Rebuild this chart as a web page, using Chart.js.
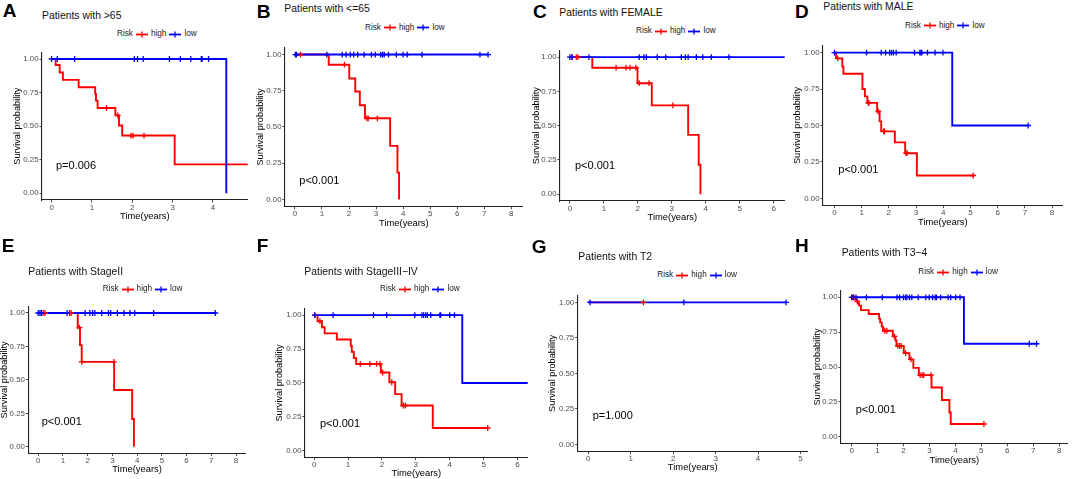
<!DOCTYPE html>
<html>
<head>
<meta charset="utf-8">
<script src="https://cdn.jsdelivr.net/npm/chart.js@4.4.0/dist/chart.umd.min.js"></script>
<style>
  body { margin: 0; background: #fff; width: 1072px; height: 479px; position: relative; overflow: hidden;
         font-family: "Liberation Sans", Arial, sans-serif; }
  canvas { position: absolute; }
  .t { position: absolute; white-space: nowrap; color: #000; }
  .lab { font-weight: bold; font-size: 19px; line-height: 19px; }
  .ttl { font-size: 10.4px; line-height: 10px; color: #111; }
  .pv { font-size: 11px; line-height: 11px; }
  .leg { position: absolute; display: flex; align-items: center; font-size: 8.2px; line-height: 8px;
         white-space: nowrap; color: #222; }
  .leg svg { display: block; }
</style>
</head>
<body>
<script>
// ---- data (time in years, survival probability) ----
var yTickVals = [0, 0.25, 0.5, 0.75, 1];
var yTickLabels = ['0.00', '0.25', '0.50', '0.75', '1.00'];

// A  Patients with >65
var aHighTime = [0, 0.10, 0.20, 0.28, 0.67, 1.08, 1.10, 1.14, 1.58, 1.67, 1.75, 3.05, 4.90];
var aHighSurv = [1, 0.955, 0.90, 0.845, 0.79, 0.74, 0.69, 0.635, 0.58, 0.505, 0.43, 0.215, 0.215];
var aHighCens = [1.36, 1.64, 1.97, 2.02, 2.29];
var aLowTime = [0, 4.33];
var aLowSurv = [1, 0];
var aLowCens = [0.0, 0.14, 0.57, 2.05, 2.13, 2.27, 2.92, 3.19, 3.45, 3.71, 3.73, 3.89];
var aTicks = [0, 1, 2, 3, 4];

// B  Patients with <=65
var bHighTime = [0, 1.25, 2.01, 2.23, 2.40, 2.59, 3.52, 3.79, 3.85];
var bHighSurv = [1, 0.93, 0.835, 0.745, 0.65, 0.56, 0.37, 0.185, 0];
var bHighCens = [0.21, 1.83, 2.66, 2.71, 3.05];
var bLowTime = [0, 7.14];
var bLowSurv = [1, 1];
var bLowCens = [0.02, 0.06, 1.18, 1.75, 1.89, 2.05, 2.17, 2.32, 2.56, 2.83, 2.97, 3.17, 3.24, 3.30, 3.46, 3.75, 4.00, 4.15, 4.70, 6.84, 7.14];
var bTicks = [0, 1, 2, 3, 4, 5, 6, 7, 8];

// C  Patients with FEMALE
var cHighTime = [0, 0.66, 1.99, 2.41, 3.48, 3.79, 3.84];
var cHighSurv = [1, 0.923, 0.81, 0.648, 0.433, 0.215, 0];
var cHighCens = [0.05, 0.19, 0.24, 1.36, 1.65, 1.77, 1.94, 2.04, 2.33, 3.03];
var cLowTime = [0, 6.40];
var cLowSurv = [1, 1];
var cLowCens = [0, 0.07, 0.56, 2.04, 2.18, 2.25, 2.57, 2.82, 3.28, 3.40, 3.48, 3.72, 3.91, 4.16, 4.68];
var cTicks = [0, 1, 2, 3, 4, 5, 6];

// D  Patients with MALE
var dHighTime = [0, 0.06, 0.29, 0.33, 1.03, 1.12, 1.21, 1.57, 1.66, 1.72, 2.22, 2.60, 3.03, 5.10];
var dHighSurv = [1, 0.96, 0.905, 0.855, 0.75, 0.70, 0.655, 0.596, 0.528, 0.46, 0.384, 0.31, 0.157, 0.157];
var dHighCens = [0.12, 1.24, 1.27, 1.61, 1.81, 1.84, 2.63, 2.67, 5.10];
var dLowTime = [0, 4.33, 7.12];
var dLowSurv = [1, 0.5, 0.5];
var dLowCens = [0, 1.18, 1.72, 1.88, 2.03, 2.10, 2.17, 2.27, 2.94, 3.14, 3.18, 3.21, 3.42, 3.70, 3.99, 7.12];
var dTicks = [0, 1, 2, 3, 4, 5, 6, 7, 8];

// E  Patients with StageII
var eHighTime = [0, 1.60, 1.69, 1.76, 3.07, 3.80, 3.87];
var eHighSurv = [1, 0.89, 0.76, 0.635, 0.424, 0.208, 0];
var eHighCens = [0.20, 0.27, 1.27, 1.33, 1.67, 1.76, 3.06];
var eLowTime = [0, 7.16];
var eLowSurv = [1, 1];
var eLowCens = [0, 0.07, 0.13, 1.17, 1.90, 2.09, 2.20, 2.29, 2.57, 2.84, 2.93, 3.20, 3.47, 3.71, 3.90, 4.67, 7.16];
var eTicks = [0, 1, 2, 3, 4, 5, 6, 7, 8];

// F  Patients with StageIII-IV
var fHighTime = [0, 0.10, 0.23, 0.31, 0.67, 1.08, 1.11, 1.17, 1.24, 1.97, 2.22, 2.39, 2.58, 3.50, 5.12];
var fHighSurv = [1, 0.955, 0.91, 0.865, 0.82, 0.774, 0.73, 0.683, 0.64, 0.577, 0.505, 0.418, 0.334, 0.168, 0.168];
var fHighCens = [0.02, 0.17, 1.36, 1.64, 1.84, 1.94, 2.02, 2.29, 2.63, 2.69, 5.12];
var fLowTime = [0, 4.37, 6.40];
var fLowSurv = [1, 0.5, 0.5];
var fLowCens = [0.02, 0.56, 1.75, 2.14, 2.97, 3.18, 3.23, 3.29, 3.34, 3.44, 3.71, 3.73, 4.00, 4.14];
var fTicks = [0, 1, 2, 3, 4, 5, 6];

// G  Patients with T2
var gHighTime = [0, 1.30];
var gHighSurv = [1, 1];
var gHighCens = [1.30];
var gLowTime = [0, 4.66];
var gLowSurv = [1, 1];
var gLowCens = [0.04, 2.25, 4.66];
var gTicks = [0, 1, 2, 3, 4, 5];

// H  Patients with T3-4
var hHighTime = [0, 0.13, 0.19, 0.25, 0.29, 0.36, 0.66, 1.06, 1.10, 1.16, 1.21, 1.59, 1.69, 1.73, 2.01, 2.23, 2.38, 2.59, 3.08, 3.48, 3.77, 3.82, 5.10];
var hHighSurv = [1, 0.985, 0.97, 0.955, 0.94, 0.908, 0.88, 0.847, 0.82, 0.79, 0.76, 0.72, 0.69, 0.652, 0.60, 0.555, 0.494, 0.442, 0.353, 0.264, 0.174, 0.092, 0.092];
var hHighCens = [0.04, 0.09, 0.22, 1.28, 1.36, 1.65, 1.78, 1.85, 1.91, 2.08, 2.29, 2.64, 2.72, 2.78, 3.06, 5.10];
var hLowTime = [0, 4.33, 7.13];
var hLowSurv = [1, 0.667, 0.667];
var hLowCens = [0, 0.06, 0.17, 0.57, 1.18, 1.75, 1.85, 2.00, 2.08, 2.13, 2.23, 2.32, 2.57, 2.86, 2.99, 3.12, 3.22, 3.27, 3.43, 3.72, 3.82, 4.01, 4.18, 6.85, 7.13];
var hTicks = [0, 1, 2, 3, 4, 5, 6, 7, 8];

var pValues = ['p=0.006', 'p<0.001', 'p<0.001', 'p<0.001', 'p<0.001', 'p<0.001', 'p=1.000', 'p<0.001'];
var panelTitles = ['Patients with >65', 'Patients with <=65', 'Patients with FEMALE', 'Patients with MALE',
                   'Patients with StageII', 'Patients with StageIII\u2212IV', 'Patients with T2', 'Patients with T3\u22124'];
var panelLetters = ['A', 'B', 'C', 'D', 'E', 'F', 'G', 'H'];

// ---- layout of each panel on the page ----
// plot box (cl,cr,ct,cb), x range, y-title distance, and text anchors
var panels = [
  {hT: aHighTime, hS: aHighSurv, hC: aHighCens, lT: aLowTime, lS: aLowSurv, lC: aLowCens, xt: aTicks,
   cl: 42, cr: 250, ct: 49.9, cb: 200, xmin: -0.238, xmax: 4.86, yOff: 24,
   letter: [2.7, 17], title: [42, 16], leg: [117, 34], pv: [56, 165.7]},
  {hT: bHighTime, hS: bHighSurv, hC: bHighCens, lT: bLowTime, lS: bLowSurv, lC: bLowCens, xt: bTicks,
   cl: 285, cr: 525, ct: 44.3, cb: 206.7, xmin: -0.366, xmax: 8.42, yOff: 24.3,
   letter: [256.7, 18.3], title: [284.3, 9], leg: [365, 27.7], pv: [299.3, 180.7]},
  {hT: cHighTime, hS: cHighSurv, hC: cHighCens, lT: cLowTime, lS: cLowSurv, lC: cLowCens, xt: cTicks,
   cl: 560, cr: 787, ct: 47, cb: 201, xmin: -0.29, xmax: 6.32, yOff: 23,
   letter: [533, 18.3], title: [559.3, 13.3], leg: [636, 31], pv: [575, 165.7]},
  {hT: dHighTime, hS: dHighSurv, hC: dHighCens, lT: dLowTime, lS: dLowSurv, lC: dLowCens, xt: dTicks,
   cl: 823, cr: 1065, ct: 42.6, cb: 205.7, xmin: -0.42, xmax: 8.39, yOff: 25,
   letter: [795, 18.3], title: [823.3, 7.3], leg: [905, 25.7], pv: [838.3, 169.3]},
  {hT: eHighTime, hS: eHighSurv, hC: eHighCens, lT: eLowTime, lS: eLowSurv, lC: eLowCens, xt: eTicks,
   cl: 28.3, cr: 248, ct: 303.9, cb: 453.5, xmin: -0.4, xmax: 8.39, yOff: 23,
   letter: [1.7, 252], title: [28.3, 271.7], leg: [102.7, 289], pv: [41.7, 421]},
  {hT: fHighTime, hS: fHighSurv, hC: fHighCens, lT: fLowTime, lS: fLowSurv, lC: fLowCens, xt: fTicks,
   cl: 305, cr: 529.3, ct: 305.1, cb: 457.6, xmin: -0.27, xmax: 6.3, yOff: 25,
   letter: [256.7, 252], title: [304.3, 271.7], leg: [380, 289.3], pv: [320, 423.3]},
  {hT: gHighTime, hS: gHighSurv, hC: gHighCens, lT: gLowTime, lS: gLowSurv, lC: gLowCens, xt: gTicks,
   cl: 577.7, cr: 810, ct: 292, cb: 451.5, xmin: -0.25, xmax: 5.17, yOff: 25,
   letter: [531.7, 253], title: [578.3, 256.7], leg: [657.3, 275], pv: [592.7, 415.7]},
  {hT: hHighTime, hS: hHighSurv, hC: hHighCens, lT: hLowTime, lS: hLowSurv, lC: hLowCens, xt: hTicks,
   cl: 841, cr: 1070, ct: 287.9, cb: 443.8, xmin: -0.41, xmax: 8.33, yOff: 23,
   letter: [795, 252], title: [841.7, 253.3], leg: [918.3, 272.3], pv: [855.7, 409]}
];

var RED = '#ff0000';
var BLUE = '#0000ff';
var FONT = "'Liberation Sans', Arial, sans-serif";
var HX = 21;        // height of x axis block (ticks + title)
var TITLE_HALF = 4.6;

function stepPoints(times, surv) {
  return times.map(function (t, i) { return {x: t, y: surv[i]}; });
}

// censored subjects sit on the curve: take the step value at that time
function censorPoints(cens, times, surv) {
  return cens.map(function (t) {
    var s = surv[0];
    for (var i = 0; i < times.length; i++) if (times[i] <= t) s = surv[i];
    return {x: t, y: s};
  });
}

function addText(cls, txt, left, top) {
  var d = document.createElement('div');
  d.className = 't ' + cls;
  d.textContent = txt;
  d.style.left = left + 'px';
  d.style.top = top + 'px';
  document.body.appendChild(d);
}

function legendMark(color) {
  return '<svg width="12" height="7"><line x1="0" y1="3.5" x2="12" y2="3.5" stroke="' + color +
    '" stroke-width="1.8"/><line x1="6" y1="0.6" x2="6" y2="6.4" stroke="' + color +
    '" stroke-width="1.3"/></svg>';
}

function addLegend(left, cy) {
  var d = document.createElement('div');
  d.className = 'leg';
  d.style.left = left + 'px';
  d.style.top = (cy - 4) + 'px';
  d.innerHTML = '<span>Risk</span><span style="width:3px"></span>' + legendMark(RED) +
    '<span style="width:3px"></span><span>high</span><span style="width:3px"></span>' + legendMark(BLUE) +
    '<span style="width:3px"></span><span>low</span>';
  document.body.appendChild(d);
}

function makePanel(p, k) {
  var left = Math.floor(p.cl - p.yOff - TITLE_HALF);
  var top = Math.floor(p.ct - 2);
  var width = Math.ceil(p.cr + 3 - left);
  var height = Math.ceil(p.cb + HX - top);
  var wy = p.cl - left;

  var cv = document.createElement('canvas');
  cv.width = width;
  cv.height = height;
  cv.style.left = left + 'px';
  cv.style.top = top + 'px';
  document.body.appendChild(cv);

  new Chart(cv.getContext('2d'), {
    type: 'line',
    data: {
      datasets: [
        {data: stepPoints(p.hT, p.hS), borderColor: RED, borderWidth: 1.9, stepped: 'before',
         pointRadius: 0, fill: false, order: 4},
        {data: stepPoints(p.lT, p.lS), borderColor: BLUE, borderWidth: 1.9, stepped: 'before',
         pointRadius: 0, fill: false, order: 3},
        {data: censorPoints(p.hC, p.hT, p.hS), showLine: false, pointStyle: 'cross', pointRadius: 2.9,
         pointBorderColor: RED, pointBorderWidth: 1.3, borderColor: RED, order: 2},
        {data: censorPoints(p.lC, p.lT, p.lS), showLine: false, pointStyle: 'cross', pointRadius: 2.9,
         pointBorderColor: BLUE, pointBorderWidth: 1.3, borderColor: BLUE, order: 1}
      ]
    },
    options: {
      responsive: false,
      animation: false,
      events: [],
      layout: {padding: {left: 0, top: p.ct - top, right: left + width - p.cr, bottom: top + height - p.cb - HX}},
      plugins: {legend: {display: false}, tooltip: {enabled: false}},
      scales: {
        x: {
          type: 'linear', min: p.xmin, max: p.xmax,
          afterBuildTicks: function (s) { s.ticks = p.xt.map(function (v) { return {value: v}; }); },
          afterFit: function (s) { s.height = HX; s.paddingLeft = 0; s.paddingRight = 0; },
          grid: {drawOnChartArea: false, drawTicks: true, tickLength: 2.5, color: '#333', lineWidth: 0.9},
          border: {display: true, color: '#222', width: 1.1},
          ticks: {padding: 0, color: '#4d4d4d', autoSkip: false, maxRotation: 0,
                  font: {size: 8, family: FONT},
                  callback: function (v, i) { return String(p.xt[i]); }},
          title: {display: true, text: 'Time(years)', color: '#000', padding: 0,
                  font: {size: 9.4, family: FONT, lineHeight: 1}}
        },
        y: {
          type: 'linear', min: -0.05, max: 1.05,
          afterBuildTicks: function (s) { s.ticks = yTickVals.map(function (v) { return {value: v}; }); },
          afterFit: function (s) { s.width = wy; s.paddingTop = 0; s.paddingBottom = 0; },
          grid: {drawOnChartArea: false, drawTicks: true, tickLength: 2.5, color: '#333', lineWidth: 0.9},
          border: {display: true, color: '#222', width: 1.1},
          ticks: {padding: 1, color: '#4d4d4d', autoSkip: false,
                  font: {size: 7.8, family: FONT},
                  callback: function (v, i) { return yTickLabels[i]; }},
          title: {display: true, text: 'Survival probability', color: '#000', padding: 0,
                  font: {size: 9.2, family: FONT, lineHeight: 1}}
        }
      }
    }
  });

  addText('lab', panelLetters[k], p.letter[0], p.letter[1] - 16.1);
  addText('ttl', panelTitles[k], p.title[0], p.title[1] - 5);
  addLegend(p.leg[0], p.leg[1]);
  addText('pv', pValues[k], p.pv[0], p.pv[1] - 5.5);
}

panels.forEach(makePanel);
</script>
</body>
</html>
